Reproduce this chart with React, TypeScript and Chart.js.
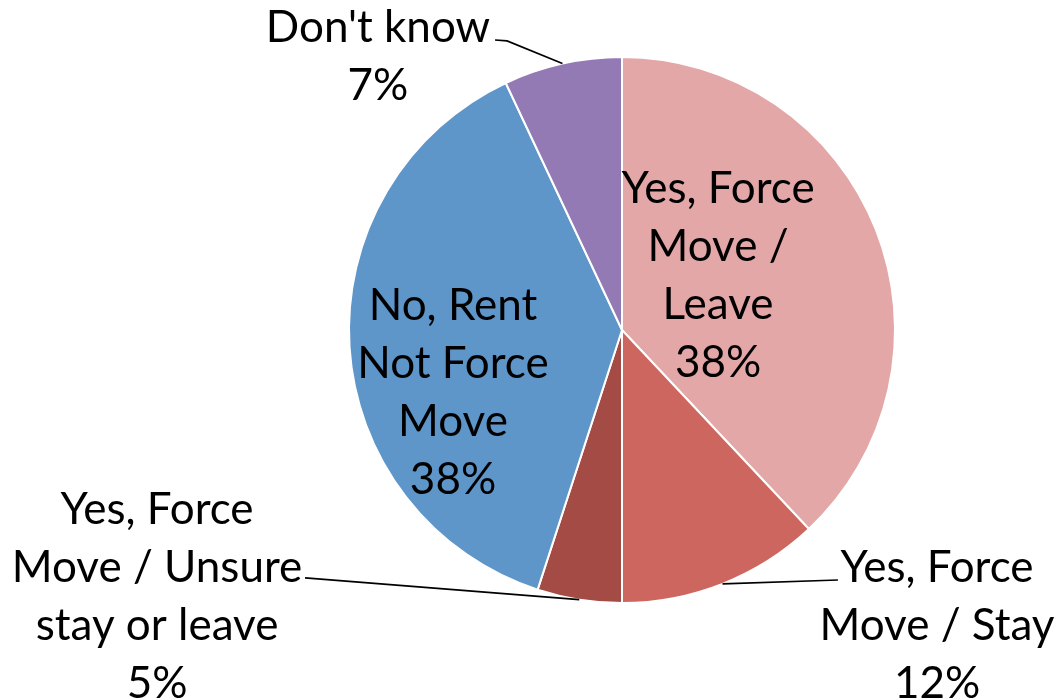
import React, { useEffect, useRef } from "react";
import { Chart, registerables } from "chart.js";

Chart.register(...registerables);

// Category names, wrapped as in the reference
const categories: string[][] = [
  ["Yes, Force", "Move /", "Leave"],
  ["Yes, Force", "Move / Stay"],
  ["Yes, Force", "Move / Unsure", "stay or leave"],
  ["No, Rent", "Not Force", "Move"],
  ["Don't know"],
];
const values: number[] = [38, 12, 5, 38, 7];
const colors: string[] = ["#E2A7A6", "#CE6660", "#A54B45", "#5F96CA", "#947AB4"];

// label block centre, relative to pie centre in units of radius
const labelPos: [number, number][] = [
  [0.352, -0.198],
  [1.154, 1.084],
  [-1.703, 0.978],
  [-0.619, 0.231],
  [-0.894, -1.0],
];
// leader line points (relative), ending at slice mid on the rim; null = inside label
const leaders: ([number, number][] | null)[] = [
  null,
  [[0.791, 0.916]],
  [[-1.161, 0.908]],
  null,
  [[-0.465, -1.062], [-0.421, -1.059]],
];

const FONT = "Lato, 'Open Sans', sans-serif";
const FONT_SIZE = 44;
const LINE_H = 58;

const labelPlugin = {
  id: "sliceLabels",
  afterDatasetsDraw(chart: any) {
    const ctx = chart.ctx as CanvasRenderingContext2D;
    const meta = chart.getDatasetMeta(0);
    const total = values.reduce((a, b) => a + b, 0);
    ctx.save();
    meta.data.forEach((arc: any, i: number) => {
      const { x, y, startAngle, endAngle, outerRadius } = arc.getProps(
        ["x", "y", "startAngle", "endAngle", "outerRadius"],
        true
      );
      const R = outerRadius;
      const mid = (startAngle + endAngle) / 2;
      const lead = leaders[i];
      if (lead) {
        ctx.beginPath();
        ctx.strokeStyle = "#000";
        ctx.lineWidth = 1.6;
        lead.forEach((p, k) => {
          const px = x + p[0] * R;
          const py = y + p[1] * R;
          if (k === 0) ctx.moveTo(px, py);
          else ctx.lineTo(px, py);
        });
        ctx.lineTo(x + Math.cos(mid) * R, y + Math.sin(mid) * R);
        ctx.stroke();
      }
      const lines = [...categories[i], Math.round((values[i] / total) * 100) + "%"];
      const cx = x + labelPos[i][0] * R;
      const cy = y + labelPos[i][1] * R;
      ctx.fillStyle = "#000";
      ctx.font = `${FONT_SIZE}px ${FONT}`;
      ctx.textAlign = "center";
      ctx.textBaseline = "middle";
      const n = lines.length;
      lines.forEach((t, k) => {
        ctx.fillText(t, cx, cy + (k - (n - 1) / 2) * LINE_H);
      });
    });
    ctx.restore();
  },
};

export default function App() {
  const ref = useRef<HTMLCanvasElement>(null);
  useEffect(() => {
    document.body.style.margin = "0";
    const chart = new Chart(ref.current!, {
      type: "pie",
      data: {
        labels: categories.map((c) => c.join(" ")),
        datasets: [
          {
            data: values,
            backgroundColor: colors,
            borderColor: "#ffffff",
            borderWidth: 2,
          },
        ],
      },
      options: {
        responsive: false,
        animation: false,
        layout: { padding: { left: 348, right: 161, top: 56, bottom: 95 } },
        plugins: { legend: { display: false }, tooltip: { enabled: false } },
      },
      plugins: [labelPlugin],
    });
    return () => chart.destroy();
  }, []);
  return (
    <div style={{ position: "absolute", left: 0, top: 0, width: 1057, height: 699, background: "#fff" }}>
      <canvas ref={ref} width={1057} height={699} />
    </div>
  );
}
